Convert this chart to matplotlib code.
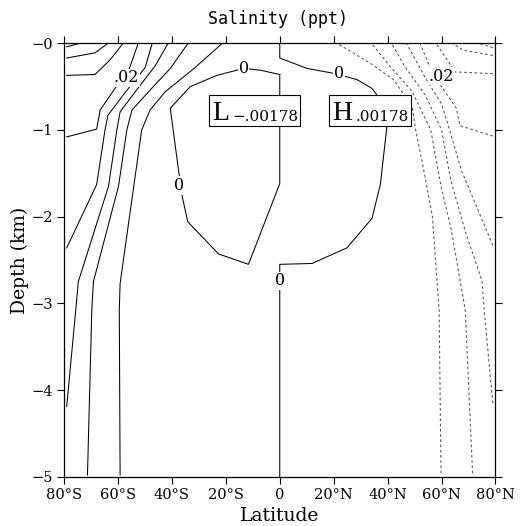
import matplotlib
matplotlib.use("Agg")
import matplotlib.pyplot as plt
from matplotlib.patches import Rectangle

# ---------------- data (lat in degrees, depth in km) ----------------
x_ticks = [-80, -60, -40, -20, 0, 20, 40, 60, 80]
x_ticklabels = ["80°S", "60°S", "40°S", "20°S", "0", "20°N", "40°N", "60°N", "80°N"]
y_ticks = [0, -1, -2, -3, -4, -5]
y_ticklabels = ["−0", "−1", "−2", "−3", "−4", "−5"]

# solid contours (southern side, positive)
s1_lat = [-79.0, -74.0]
s1_dep = [-0.04, 0.0]
s2_lat = [-79.0, -68.5, -63.7]
s2_dep = [-0.17, -0.11, 0.0]
s3_lat = [-79.0, -68.5, -62.9, -58.1]
s3_dep = [-0.37, -0.36, -0.19, 0.0]
s4_lat = [-79.0, -67.9, -66.6, -61.1, -56.2, -52.5]
s4_dep = [-1.08, -0.99, -0.77, -0.52, -0.33, 0.0]
s5_lat = [-79.0, -67.9, -64.8, -63.7, -57.4, -49.9, -47.3]
s5_dep = [-2.36, -1.63, -1.0, -0.83, -0.57, -0.28, 0.0]
s6_lat = [-79.0, -75.3, -74.7, -63.5, -60.4, -59.2, -53.6, -46.2, -41.4]
s6_dep = [-4.19, -2.96, -2.75, -1.65, -1.0, -0.79, -0.56, -0.26, 0.0]
s7_lat = [-71.3, -69.7, -69.1, -59.8, -56.7, -54.8, -48.1, -40.6, -34.0]
s7_dep = [-4.98, -3.08, -2.75, -1.65, -1.0, -0.77, -0.54, -0.29, 0.0]
s8_lat = [-59.2, -59.5, -59.2, -51.2, -48.1, -42.5, -31.4, -21.3]
s8_dep = [-4.98, -3.08, -2.77, -1.0, -0.77, -0.56, -0.28, 0.0]

# zero contours
z_south_lat = [0, 0, -11.6, -22.7, -34.1, -36.3, -40.6, -33.2, -23.3, -13.4, -7.2, 0]
z_south_dep = [-0.36, -1.62, -2.55, -2.43, -2.06, -1.75, -0.75, -0.50, -0.37, -0.29, -0.31, -0.36]
z_north_lat = [0, 0, 10.1, 20.6, 28.7, 34.2, 36.1, 39.8, 37.3, 34.2, 24.9, 12.0, 0, 0]
z_north_dep = [0, -0.17, -0.29, -0.35, -0.42, -0.52, -0.60, -0.94, -1.63, -2.02, -2.36, -2.54, -2.55, -5.0]

# dashed contours (northern side, negative)
n1_lat = [79.0, 74.0]
n1_dep = [-0.05, 0.0]
n2_lat = [79.0, 68.0, 64.0]
n2_dep = [-0.14, -0.08, 0.0]
n3_lat = [79.0, 65.0, 58.0]
n3_dep = [-0.35, -0.33, 0.0]
n4_lat = [79.0, 66.8, 65.5, 60.0, 56.0, 52.0]
n4_dep = [-1.07, -0.95, -0.75, -0.50, -0.30, 0.0]
n5_lat = [79.0, 67.4, 63.0, 60.0, 54.0, 47.0]
n5_dep = [-2.33, -1.47, -1.0, -0.70, -0.40, 0.0]
n6_lat = [79.0, 75.8, 75.0, 69.0, 63.5, 60.0, 54.0, 46.0, 41.5]
n6_dep = [-4.15, -3.08, -2.74, -2.19, -1.59, -1.0, -0.60, -0.25, 0.0]
n7_lat = [71.5, 68.8, 63.6, 59.8, 56.0, 49.0, 41.0, 34.0]
n7_dep = [-4.96, -3.08, -2.15, -1.65, -1.0, -0.55, -0.27, 0.0]
n8_lat = [59.8, 59.1, 56.6, 52.9, 50.4, 49.1, 42.2, 33.6, 21.2]
n8_dep = [-4.96, -3.08, -2.0, -1.38, -1.0, -0.73, -0.42, -0.23, 0.0]

# contour labels: (text, lat, depth)
label_text = [".02", "0", "0", "0", "0", ".02"]
label_lat = [-56.8, -13.4, -37.4, 22.0, 0.0, 60.0]
label_dep = [-0.40, -0.29, -1.64, -0.35, -2.74, -0.38]

L_value = -0.00178
H_value = 0.00178

# ---------------- figure ----------------
fig = plt.figure(figsize=(5.23, 5.26), dpi=100)
ax = fig.add_axes([0.1224, 0.0937, 0.825, 0.824])

solid = [(s1_lat, s1_dep), (s2_lat, s2_dep), (s3_lat, s3_dep), (s4_lat, s4_dep),
         (s5_lat, s5_dep), (s6_lat, s6_dep), (s7_lat, s7_dep), (s8_lat, s8_dep),
         (z_south_lat, z_south_dep), (z_north_lat, z_north_dep)]
dashed = [(n1_lat, n1_dep), (n2_lat, n2_dep), (n3_lat, n3_dep), (n4_lat, n4_dep),
          (n5_lat, n5_dep), (n6_lat, n6_dep), (n7_lat, n7_dep), (n8_lat, n8_dep)]

for la, de in solid:
    ax.plot(la, de, color="black", lw=0.75, solid_joinstyle="miter")
for la, de in dashed:
    ax.plot(la, de, color="#505050", lw=0.75, linestyle=(0, (2.5, 2.5)))

for t, la, de in zip(label_text, label_lat, label_dep):
    ax.text(la, de, t, ha="center", va="center", fontsize=11.5, family="DejaVu Serif",
            bbox=dict(facecolor="white", edgecolor="none", pad=0.5), zorder=5)

# L / H boxes
def hl_box(x0, x1, y0, y1, big, small):
    ax.add_patch(Rectangle((x0, y0), x1 - x0, y1 - y0, facecolor="white",
                           edgecolor="black", lw=0.8, zorder=6))
    ax.text(x0 + 1.0, y0 + 0.07, big, ha="left", va="baseline", fontsize=20,
            family="Liberation Serif", zorder=7)
    ax.text(x1 - 0.8, y0 + 0.05, small, ha="right", va="baseline", fontsize=11,
            family="DejaVu Serif", zorder=7)

hl_box(-26.2, 7.6, -0.95, -0.60, "L", "−" + f"{abs(L_value):.5f}".lstrip("0"))
hl_box(18.4, 48.6, -0.95, -0.60, "H", f"{H_value:.5f}".lstrip("0"))

ax.set_xlim(-80, 80)
ax.set_ylim(-5, 0)
ax.set_xticks(x_ticks)
ax.set_xticklabels(x_ticklabels, family="DejaVu Serif", fontsize=10.5)
ax.set_yticks(y_ticks)
ax.set_yticklabels(y_ticklabels, family="DejaVu Serif", fontsize=10.5)
ax.tick_params(direction="out", length=5, width=0.8, top=True, right=True, pad=3)
for s in ax.spines.values():
    s.set_linewidth(0.9)

ax.set_xlabel("Latitude", family="DejaVu Serif", fontsize=13.5, labelpad=4)
ax.set_ylabel("Depth (km)", family="DejaVu Serif", fontsize=13.5, labelpad=2)
fig.text(0.532, 0.963, "Salinity (ppt)", ha="center", va="center",
         family="DejaVu Sans Mono", fontsize=12)

fig.savefig("out.png", dpi=100)
